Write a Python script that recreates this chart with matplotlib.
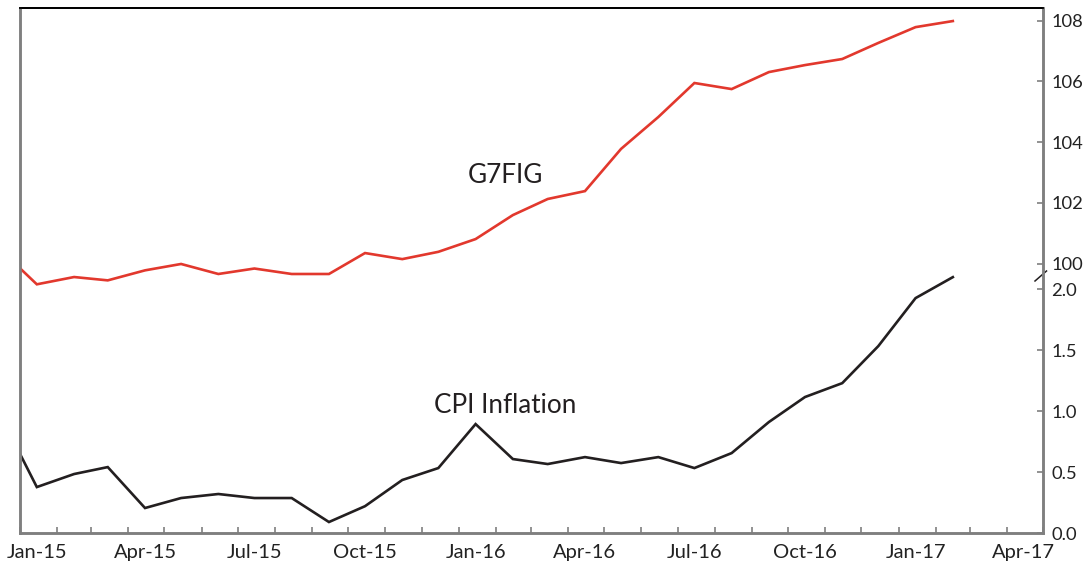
import datetime as dt
import matplotlib
matplotlib.use("Agg")
import matplotlib.pyplot as plt
import matplotlib.dates as mdates
from matplotlib.ticker import FixedLocator, FormatStrFormatter

plt.rcParams['font.family'] = ['Lato', 'DejaVu Sans']

# monthly observations, Dec-14 .. Feb-17 (plotted mid-month)
months = [(2014, 12)] + [(2015, m) for m in range(1, 13)] + \
         [(2016, m) for m in range(1, 13)] + [(2017, 1), (2017, 2)]
g7fig = [100.49, 99.32, 99.56, 99.45, 99.78, 99.99, 99.66, 99.84, 99.66, 99.66,
         100.35, 100.15, 100.39, 100.81, 101.60, 102.13, 102.39, 103.78, 104.83,
         105.95, 105.75, 106.31, 106.54, 106.74, 107.27, 107.79, 107.99]
cpi = [0.98, 0.377, 0.484, 0.541, 0.205, 0.287, 0.320, 0.287, 0.287, 0.09,
       0.22, 0.435, 0.533, 0.894, 0.607, 0.566, 0.623, 0.574, 0.623, 0.533,
       0.656, 0.911, 1.116, 1.230, 1.534, 1.928, 2.10]
g7_ticks = [100, 102, 104, 106, 108]
cpi_ticks = [0.0, 0.5, 1.0, 1.5, 2.0]

dates = [dt.date(y, m, 15) for y, m in months]

RED = '#e2382d'
BLACK = '#231f20'
GREY = '#7f7f7f'

fig = plt.figure(figsize=(10.85, 5.64), dpi=100)
ax = fig.add_axes([20/1085, 1 - 533/564, 1023/1085, 525/564])
ax2 = ax.twinx()

ax.plot(dates, cpi, color=BLACK, lw=1.9, solid_joinstyle='miter')
ax2.plot(dates, g7fig, color=RED, lw=1.9, solid_joinstyle='miter')

ax.set_xlim(dt.date(2015, 1, 1), dt.date(2017, 5, 1))
ax.set_ylim(0, 4.309)
ax2.set_ylim(91.13, 108.42)

# both scales live on the right-hand side
ax.yaxis.tick_right()
ax.yaxis.set_major_locator(FixedLocator(cpi_ticks))
ax.yaxis.set_major_formatter(FormatStrFormatter('%.1f'))
ax2.yaxis.set_major_locator(FixedLocator(g7_ticks))

ax.xaxis.set_major_locator(mdates.MonthLocator(bymonth=[1, 4, 7, 10], bymonthday=15))
ax.xaxis.set_major_formatter(mdates.DateFormatter('%b-%y'))
ax.xaxis.set_minor_locator(mdates.MonthLocator())

for a in (ax, ax2):
    a.tick_params(axis='y', which='both', direction='in', length=4.5, width=1.2,
                  color=GREY, labelsize=13.2, labelcolor='#222222', pad=6,
                  left=False, right=True, labelleft=False, labelright=True)
    for side in ('left', 'right', 'bottom'):
        a.spines[side].set_color(GREY)
        a.spines[side].set_linewidth(1.8)
    a.spines['top'].set_color('black')
    a.spines['top'].set_linewidth(1.3)

ax.tick_params(axis='x', which='major', length=0, labelsize=14.5,
               labelcolor='#222222', pad=8)
ax.tick_params(axis='x', which='minor', direction='in', length=4.5, width=1.2,
               color=GREY)

ax.text(dt.date(2016, 2, 9), 0.987, 'CPI Inflation', ha='center', va='baseline',
        fontsize=18.8, color=BLACK)
ax2.text(dt.date(2016, 2, 9), 102.66, 'G7FIG', ha='center', va='baseline',
         fontsize=18.8, color=BLACK)

# axis break mark on the right spine between the two scales
ax.plot([1 - 8/1023, 1 + 3.5/1023], [1 - 281/525 + 8/525, 1 - 271/525 + 8/525],
        transform=ax.transAxes, color=BLACK, lw=1.1, clip_on=False)

fig.savefig('out.png', dpi=100)
